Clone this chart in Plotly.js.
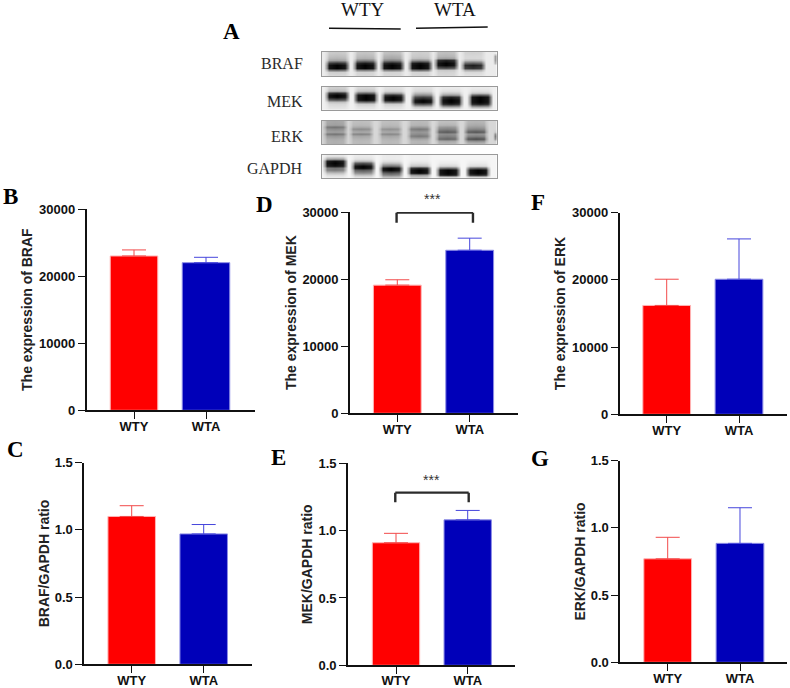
<!DOCTYPE html>
<html>
<head>
<meta charset="utf-8">
<script src="https://cdn.plot.ly/plotly-3.0.1.min.js"></script>
<style>html,body{margin:0;padding:0;background:#fff}#chart{width:790px;height:688px}</style>
</head>
<body>
<div id="chart"></div>
<script>
// ---------- data ----------
const categories = ['WTY', 'WTA'];
const brafExpr = [23000, 22000];   const brafExprTop = [23900, 22800];
const mekExpr  = [19100, 24300];   const mekExprTop  = [19900, 26100];
const erkExpr  = [16200, 20100];   const erkExprTop  = [20100, 26100];
const brafRatio = [1.10, 0.97];    const brafRatioTop = [1.18, 1.04];
const mekRatio  = [0.91, 1.08];    const mekRatioTop  = [0.98, 1.15];
const erkRatio  = [0.77, 0.885];   const erkRatioTop  = [0.93, 1.15];

const exprTicks = [0, 10000, 20000, 30000];
const ratioTicks = [0, 0.5, 1.0, 1.5];

// blot strips: grey level of each lane, top row to bottom row
const brafLanes = [
  [200,190,180,160,45,3,3,110,205,215],
  [195,185,175,130,25,2,5,130,210,215],
  [190,175,165,130,25,2,5,130,210,215],
  [205,200,190,140,15,2,5,115,210,215],
  [190,180,160,35,3,5,85,200,210,215],
  [210,215,215,190,90,30,50,170,215,225]];
const brafEdge = [235,60,60,60,120,235,235,235,235,235];
const mekLanes = [
  [205,185,45,3,3,85,190,215,225,230],
  [215,195,105,8,2,5,105,205,225,230],
  [225,215,160,45,5,5,95,205,225,230],
  [225,215,185,140,65,10,5,75,200,225],
  [235,225,200,155,35,2,2,25,170,230],
  [235,225,200,95,5,2,2,25,170,230]];
const mekEdge = [240,240,240,240,240,240,240,240,240,240];
const erkLanes = [
  [165,160,115,140,160,115,150,170,175,175],
  [190,185,170,140,170,130,165,180,185,185],
  [190,185,175,145,170,135,165,180,185,185],
  [185,180,155,120,150,140,120,165,180,180],
  [190,180,150,130,90,140,130,100,165,180],
  [180,170,155,135,85,145,130,75,140,175]];
const erkEdge = [215,215,215,215,190,60,10,60,200,215];
const gapdhLanes = [
  [230,160,15,2,15,115,120,190,220,235],
  [235,225,190,85,5,2,85,140,190,225],
  [235,235,225,195,115,8,2,90,130,190],
  [240,240,235,225,195,45,2,5,150,200],
  [245,245,240,235,215,110,3,2,18,210],
  [245,245,240,235,220,100,3,2,35,215]];
const gapdhEdge = [245,245,245,245,245,245,245,245,245,245];
const rowIndex = [0,1,2,3,4,5,6,7,8,9];

// ---------- layout of the page (pixels) ----------
const W = 790, H = 688;
const RED = '#ff0000', BLUE = '#0000b9';
const SANS = '"Liberation Sans", Arial, sans-serif';
const SERIF = '"Liberation Serif", "Times New Roman", serif';
const px = x => x / W, py = y => 1 - y / H;

const panels = [
  {vals: brafExpr,  tops: brafExprTop,  ticks: exprTicks,  title: 'The expression of BRAF', ax: 86.7,  right: 255,   top: 209,   bot: 410.3, t0: 134,   t1: 206,   standoff: 3, labelShift: -4},
  {vals: mekExpr,   tops: mekExprTop,   ticks: exprTicks,  title: 'The expression of MEK',  ax: 350,   right: 518,   top: 212,   bot: 413.3, t0: 397.3, t1: 469.7, standoff: 2, labelShift: -4},
  {vals: erkExpr,   tops: erkExprTop,   ticks: exprTicks,  title: 'The expression of ERK',  ax: 619.7, right: 786.7, top: 212.7, bot: 414.3, t0: 666.7, t1: 739,   standoff: 3, labelShift: -4},
  {vals: brafRatio, tops: brafRatioTop, ticks: ratioTicks, title: 'BRAF/GAPDH ratio',       ax: 84.3,  right: 251.7, top: 462.7, bot: 664.3, t0: 131.7, t1: 203.7, standoff: 2, labelShift: -4},
  {vals: mekRatio,  tops: mekRatioTop,  ticks: ratioTicks, title: 'MEK/GAPDH ratio',        ax: 348,   right: 515,   top: 463.3, bot: 665.3, t0: 396,   t1: 467.7, standoff: 3, labelShift: -5},
  {vals: erkRatio,  tops: erkRatioTop,  ticks: ratioTicks, title: 'ERK/GAPDH ratio',        ax: 620.3, right: 786.7, top: 460.7, bot: 662.3, t0: 667.7, t1: 740,   standoff: 2, labelShift: -4}
];

const strips = [
  {lanes: brafLanes,  edge: brafEdge,  centers: [337,364.7,392,419.7,445.7,473],     gap: 235, top: 52,    bot: 76},
  {lanes: mekLanes,   edge: mekEdge,   centers: [337,365.3,393,422.3,450.3,479.7],   gap: 240, top: 86.7,  bot: 110},
  {lanes: erkLanes,   edge: erkEdge,   centers: [334.7,361,389.7,418.7,447,475.3],   gap: 215, top: 120.7, bot: 144.3},
  {lanes: gapdhLanes, edge: gapdhEdge, centers: [334.7,363,391,419,448,477.3],       gap: 245, top: 154.7, bot: 178.3}
];
const stripLeft = 321.7, stripRight = 496.7;
const laneOffsets = [-13, -10.5, -8, 0, 8, 10.5, 13];
const laneMask = [0, 0.4, 0.92, 1, 0.92, 0.4, 0];

const traces = [];
const layout = {
  width: W, height: H, margin: {l: 0, r: 0, t: 0, b: 0}, barmode: 'overlay',
  paper_bgcolor: '#fff', plot_bgcolor: '#fff', showlegend: false,
  annotations: [], shapes: []
};

// ---------- bar panels ----------
const barColors = [RED, BLUE];
const edgeColors = ['#ffb4b4', '#8c8ce6'];
const errColors = ['#f24a4a', '#4646dc'];
panels.forEach((p, i) => {
  const n = i + 1, xk = 'xaxis' + n, yk = 'yaxis' + n;
  const xa = 'x' + n, ya = 'y' + n;
  categories.forEach((c, k) => {
    traces.push({
      type: 'bar', name: c, x: [c], y: [p.vals[k]], xaxis: xa, yaxis: ya, width: 0.66, cliponaxis: false,
      marker: {color: barColors[k], line: {color: edgeColors[k], width: 1}},
      error_y: {type: 'data', symmetric: false, array: [p.tops[k] - p.vals[k]], arrayminus: [0],
                thickness: 1, width: 12, color: errColors[k]}
    });
  });
  const sp = p.t1 - p.t0;
  layout[xk] = {
    domain: [px(p.ax), px(p.right)], anchor: ya, type: 'category', categoryorder: 'array', categoryarray: categories,
    range: [(p.ax - p.t0) / sp, (p.right - p.t0) / sp], fixedrange: true,
    showline: true, linecolor: '#111', linewidth: 1.7, showgrid: false, zeroline: false,
    ticks: 'outside', ticklen: 7, tickwidth: 1.4, tickcolor: '#111', ticklabelstandoff: p.labelShift,
    tickfont: {family: SANS, size: 13, color: '#111', weight: 700}
  };
  layout[yk] = {
    domain: [py(p.bot), py(p.top)], anchor: xa, range: [p.ticks[0], p.ticks[3]], fixedrange: true,
    tickmode: 'array', tickvals: p.ticks, ticktext: p.ticks.map(v => p.ticks[3] < 10 ? v.toFixed(1) : String(v)),
    showline: true, linecolor: '#111', linewidth: 1.7, showgrid: false, zeroline: false,
    ticks: 'outside', ticklen: 7, tickwidth: 1.4, tickcolor: '#111',
    tickfont: {family: SANS, size: 13, color: '#111', weight: 700},
    title: {text: p.title, standoff: p.standoff, font: {family: SANS, size: 14, color: '#222', weight: 700}}
  };
});

// significance brackets
function bracket(n, x0, x1, yTop, yBot) {
  const ref = {xref: 'x' + n, yref: 'y' + n, type: 'line', line: {color: '#2b2b2b', width: 2.4}};
  layout.shapes.push(Object.assign({x0: x0, x1: x1, y0: yTop, y1: yTop}, ref));
  layout.shapes.push(Object.assign({x0: x0, x1: x0, y0: yTop, y1: yBot}, ref));
  layout.shapes.push(Object.assign({x0: x1, x1: x1, y0: yTop, y1: yBot}, ref));
}
bracket(2, -0.01, 1.045, 29900, 28400);
bracket(5, -0.01, 1.014, 1.282, 1.21);

// ---------- blot strips ----------
strips.forEach((s, i) => {
  const n = panels.length + i + 1, xa = 'x' + n, ya = 'y' + n;
  const xs = [stripLeft - 1];
  const cols = [s.lanes[0].map(() => s.gap)];
  s.lanes.forEach((lane, l) => {
    laneOffsets.forEach((o, k) => {
      xs.push(s.centers[l] + o);
      cols.push(lane.map(v => s.gap + (v - s.gap) * laneMask[k]));
    });
  });
  xs.push(stripRight - 4); cols.push(s.lanes[0].map(() => s.gap));
  xs.push(stripRight + 1); cols.push(s.edge);
  const z = rowIndex.map(r => cols.map(c => c[r]));
  traces.push({
    type: 'heatmap', x: xs, y: rowIndex, z: z, xaxis: xa, yaxis: ya, zmin: 0, zmax: 255, zsmooth: 'best',
    colorscale: [[0, '#000'], [1, '#fff']], showscale: false, hoverinfo: 'skip'
  });
  const frame = {showline: true, mirror: true, linecolor: '#9a9a9a', linewidth: 1.3, showgrid: false, zeroline: false,
                 showticklabels: false, ticks: '', fixedrange: true};
  layout['xaxis' + n] = Object.assign({domain: [px(stripLeft), px(stripRight)], anchor: ya, range: [stripLeft, stripRight]}, frame);
  layout['yaxis' + n] = Object.assign({domain: [py(s.bot), py(s.top)], anchor: xa, range: [9.5, -0.5]}, frame);
});

// group lines above the blot
layout.shapes.push({type: 'line', xref: 'paper', yref: 'paper', x0: px(329), x1: px(400.7), y0: py(28.2), y1: py(29), line: {color: '#111', width: 1.6}});
layout.shapes.push({type: 'line', xref: 'paper', yref: 'paper', x0: px(416), x1: px(487.7), y0: py(28.2), y1: py(27), line: {color: '#111', width: 1.6}});

// ---------- free text ----------
function note(text, x, y, font, xanchor) {
  layout.annotations.push({text: text, x: px(x), y: py(y), xref: 'paper', yref: 'paper', showarrow: false,
    xanchor: xanchor || 'center', yanchor: 'middle', font: font, borderpad: 0, borderwidth: 0});
}
const letterFont = {family: SERIF, size: 23, color: '#000', weight: 700};
[['A', 231, 32], ['B', 10, 197], ['C', 15, 449], ['D', 264, 204], ['E', 278, 457], ['F', 538, 203], ['G', 540, 458]]
  .forEach(l => note(l[0], l[1], l[2], letterFont));
const blotFont = {family: SERIF, size: 16, color: '#2a2a2a'};
[['BRAF', 63], ['MEK', 101], ['ERK', 136], ['GAPDH', 168]].forEach(l => note(l[0], 303, l[1], blotFont, 'right'));
const groupFont = {family: SERIF, size: 19, color: '#111'};
note('WTY', 363, 9, groupFont);
note('WTA', 454.7, 9, groupFont);
const starFont = {family: SANS, size: 14, color: '#333'};
note('***', 432, 199, starFont);
note('***', 431.7, 480, starFont);

Plotly.newPlot('chart', traces, layout, {displayModeBar: false, responsive: false});
</script>
</body>
</html>
